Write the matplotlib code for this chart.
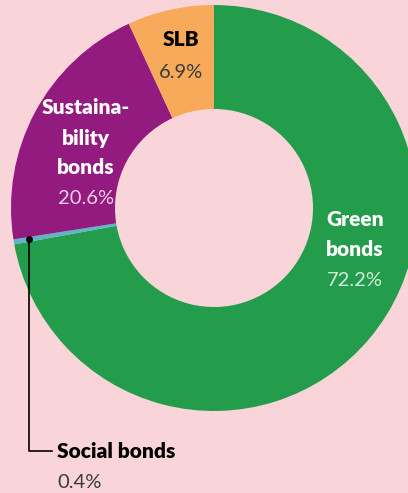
import numpy as np
import matplotlib
matplotlib.use("Agg")
import matplotlib.pyplot as plt

# shares in percent, clockwise from 12 o'clock
labels = ["Green bonds", "Social bonds", "Sustainability bonds", "SLB"]
shares = [72.2, 0.4, 20.6, 6.9]
colors = ["#239d4b", "#5cb6c6", "#931a7e", "#f6aa5a"]
bg = "#f9d4d9"

W, H = 408, 493
fig = plt.figure(figsize=(W / 100, H / 100), dpi=100, facecolor=bg)
ax = fig.add_axes([0, 0, 1, 1])
ax.set_facecolor(bg)

cx, cy = 214, H - 208
R = 203
ax.pie(shares, colors=colors, startangle=90, counterclock=False,
       radius=R, center=(cx, cy), wedgeprops=dict(width=104, linewidth=0))
ax.set_xlim(0, W)
ax.set_ylim(0, H)
ax.set_aspect("equal")
ax.axis("off")

fam = ["Lato", "DejaVu Sans"]
bold = dict(family=fam, fontweight="heavy", fontsize=15, ha="center", va="center")
light = dict(family=fam, fontweight="normal", fontsize=14.5, ha="center", va="center")

def t(x, y, s, **kw):
    ax.text(x, H - y, s, **kw)

# SLB
t(181, 40, "SLB", color="black", **bold)
t(181, 72, "6.9%", color="#3a3a3a", **light)
# Sustainability
t(86, 108, "Sustaina-", color="white", **bold)
t(86, 138, "bility", color="white", **bold)
t(86, 168, "bonds", color="white", **bold)
t(86, 199, "20.6%", color="#f0cfe6", **light)
# Green
t(355, 220, "Green", color="white", **bold)
t(355, 249, "bonds", color="white", **bold)
t(355, 280, "72.2%", color="#d3eedb", **light)

# leader for social bonds
mid = (shares[0] + shares[1] / 2) / 100 * 360
ang = np.deg2rad(90 - mid)
dx = cx + 188 * np.cos(ang)
dy = cy + 188 * np.sin(ang)
ax.plot([dx, dx, 52], [dy, H - 451, H - 451], color="black", lw=1.2)
ax.plot(dx, dy, "o", color="black", ms=4)
ax.text(57, H - 452, "Social bonds", color="black", family=fam,
        fontweight="heavy", fontsize=15, ha="left", va="center")
ax.text(57, H - 483, "0.4%", color="#3a3a3a", family=fam,
        fontweight="normal", fontsize=14.5, ha="left", va="center")

fig.savefig("out.png", dpi=100, facecolor=bg)
